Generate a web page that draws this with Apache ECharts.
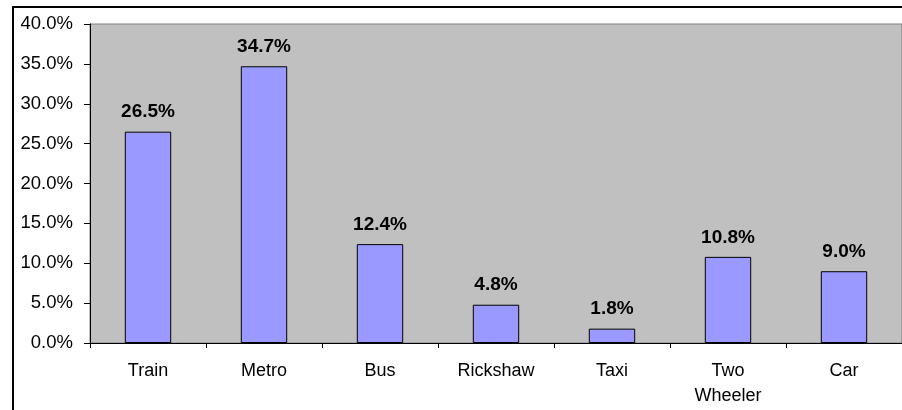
<!DOCTYPE html>
<html>
<head>
<meta charset="utf-8">
<script src="https://cdn.jsdelivr.net/npm/echarts@6/dist/echarts.min.js"></script>
<style>
html,body{margin:0;padding:0;background:#fff;}
#chart{width:902px;height:410px;}
</style>
</head>
<body>
<div id="chart"></div>
<script>
var categories = ['Train', 'Metro', 'Bus', 'Rickshaw', 'Taxi', 'Two\nWheeler', 'Car'];
var shares = [26.5, 34.7, 12.4, 4.8, 1.8, 10.8, 9.0];
var yTicks = { min: 0, max: 40, interval: 5 };

var chart = echarts.init(document.getElementById('chart'), null, { renderer: 'canvas' });
chart.setOption({
  animation: false,
  backgroundColor: '#ffffff',
  graphic: [{
    type: 'rect',
    shape: { x: 13, y: 7, width: 1200, height: 1200 },
    style: { fill: null, stroke: '#000', lineWidth: 2 },
    silent: true,
    z: 100
  }],
  grid: {
    left: 90, top: 24, width: 817, height: 319,
    show: true, backgroundColor: '#C0C0C0', borderColor: '#808080', borderWidth: 1
  },
  xAxis: {
    type: 'category',
    data: categories,
    axisLine: { lineStyle: { color: '#000', width: 1 } },
    axisTick: { show: true, length: 5, lineStyle: { color: '#000' } },
    axisLabel: {
      color: '#000', fontFamily: 'Liberation Sans, Arial, sans-serif', fontSize: 18,
      margin: 16, lineHeight: 25, interval: 0
    },
    splitLine: { show: false }
  },
  yAxis: {
    type: 'value',
    min: yTicks.min, max: yTicks.max, interval: yTicks.interval,
    axisLine: { show: true, lineStyle: { color: '#000', width: 1 } },
    axisTick: { show: true, length: 6, lineStyle: { color: '#000' } },
    axisLabel: {
      color: '#000', fontFamily: 'Liberation Sans, Arial, sans-serif', fontSize: 18.5,
      margin: 17,
      formatter: function (v) { return v.toFixed(1) + '%'; }
    },
    splitLine: { show: false }
  },
  series: [{
    type: 'bar',
    data: shares,
    barWidth: '40%',
    itemStyle: { color: '#9999FF', borderColor: '#000', borderWidth: 1 },
    label: {
      show: true, position: 'top', distance: 10,
      color: '#000', fontWeight: 'bold', fontSize: 19,
      fontFamily: 'Liberation Sans, Arial, sans-serif',
      formatter: function (p) { return p.value.toFixed(1) + '%'; }
    }
  }]
});
</script>
</body>
</html>
